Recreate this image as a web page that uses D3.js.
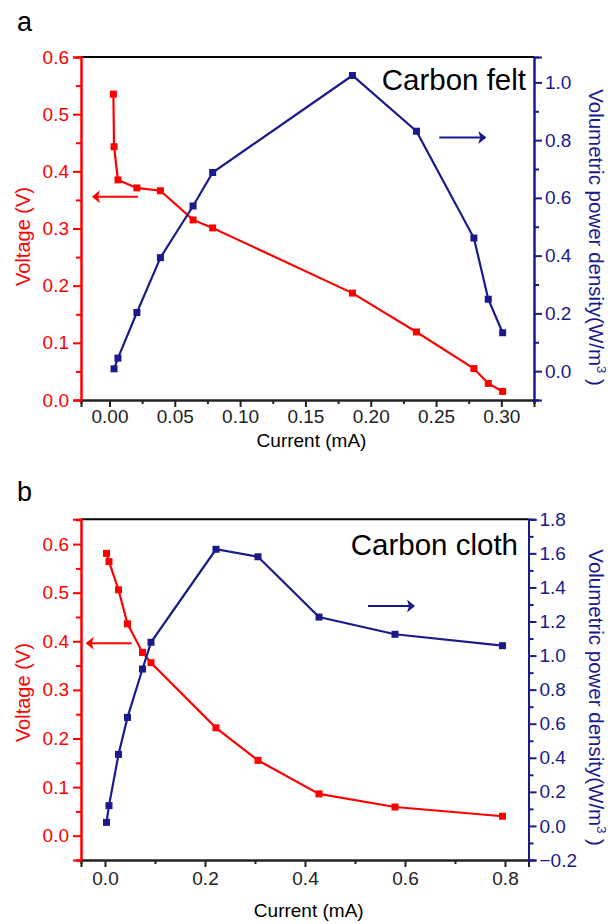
<!DOCTYPE html>
<html>
<head>
<meta charset="utf-8">
<script src="https://cdn.jsdelivr.net/npm/d3@7"></script>
<style>
body { margin: 0; background: #fff; }
svg { display: block; font-family: "Liberation Sans", Arial, sans-serif; }
</style>
</head>
<body>
<script>
// panel a - carbon felt
var currentA = [0.003, 0.0035, 0.0065, 0.021, 0.039, 0.064, 0.079, 0.186, 0.235, 0.279, 0.290, 0.301];
var voltageA = [0.535, 0.443, 0.385, 0.371, 0.366, 0.315, 0.301, 0.187, 0.119, 0.055, 0.029, 0.015];
var powerA   = [null, 0.008, 0.045, 0.203, 0.393, 0.572, 0.688, 1.024, 0.831, 0.461, 0.249, 0.133];
var xTicksA = [0, 0.05, 0.10, 0.15, 0.20, 0.25, 0.30];
var vTicksA = [0, 0.1, 0.2, 0.3, 0.4, 0.5, 0.6];
var pTicksA = [0, 0.2, 0.4, 0.6, 0.8, 1.0];

// panel b - carbon cloth
var currentB = [0.003, 0.008, 0.027, 0.045, 0.075, 0.092, 0.222, 0.306, 0.428, 0.580, 0.795];
var voltageB = [0.581, 0.564, 0.506, 0.436, 0.377, 0.356, 0.222, 0.155, 0.086, 0.059, 0.040];
var powerB   = [0.021, 0.119, 0.420, 0.637, 0.921, 1.078, 1.624, 1.580, 1.226, 1.125, 1.058];
var xTicksB = [0, 0.2, 0.4, 0.6, 0.8];
var vTicksB = [0, 0.1, 0.2, 0.3, 0.4, 0.5, 0.6];
var pTicksB = [-0.2, 0, 0.2, 0.4, 0.6, 0.8, 1.0, 1.2, 1.4, 1.6, 1.8];

var red = "#ff0000", navy = "#1a1a8c";

var svg = d3.select("body").append("svg")
    .attr("width", 608)
    .attr("height", 924);

// arrowheads
var defs = svg.append("defs");
[["headRed", red], ["headNavy", navy]].forEach(function(h) {
  defs.append("marker")
      .attr("id", h[0])
      .attr("markerUnits", "userSpaceOnUse")
      .attr("viewBox", "0 -7 8 14")
      .attr("refX", 7).attr("refY", 0)
      .attr("markerWidth", 8).attr("markerHeight", 14)
      .attr("orient", "auto")
      .append("path")
      .attr("d", "M0,-6.5L8,0L0,6.5L2,0Z")
      .attr("fill", h[1]);
});

function panel(p) {
  var g = svg.append("g");

  var x = d3.scaleLinear().domain(p.xDomain).range([p.left, p.right]);
  var yV = d3.scaleLinear().domain(p.vDomain).range([p.bottom, p.top]);
  var yP = d3.scaleLinear().domain(p.pDomain).range([p.bottom, p.top]);

  // top frame line
  g.append("line")
   .attr("x1", p.left).attr("x2", p.right)
   .attr("y1", p.top).attr("y2", p.top)
   .attr("stroke", "#000").attr("stroke-width", 2);

  // minor ticks first
  g.append("g").attr("transform", "translate(0," + p.bottom + ")")
   .call(d3.axisBottom(x).tickValues(p.xMinor).tickSize(4).tickFormat(""))
   .call(style, "#222");
  g.append("g").attr("transform", "translate(" + p.left + ",0)")
   .call(d3.axisLeft(yV).tickValues(p.vMinor).tickSize(5).tickFormat(""))
   .call(style, red);
  g.append("g").attr("transform", "translate(" + p.right + ",0)")
   .call(d3.axisRight(yP).tickValues(p.pMinor).tickSize(5).tickFormat(""))
   .call(style, navy);

  // major axes
  g.append("g").attr("transform", "translate(0," + p.bottom + ")")
   .call(d3.axisBottom(x).tickValues(p.xTicks).tickSize(7).tickPadding(p.xPad).tickFormat(d3.format(p.xFmt)))
   .call(style, "#222");
  g.append("g").attr("transform", "translate(" + p.left + ",0)")
   .call(d3.axisLeft(yV).tickValues(p.vTicks).tickSize(8).tickPadding(4).tickFormat(d3.format(".1f")))
   .call(style, red);
  g.append("g").attr("transform", "translate(" + p.right + ",0)")
   .call(d3.axisRight(yP).tickValues(p.pTicks).tickSize(8).tickPadding(3).tickFormat(d3.format(".1f")))
   .call(style, navy);

  // lines
  var vPts = p.current.map(function(c, i) { return [c, p.voltage[i]]; });
  var pPts = p.current.map(function(c, i) { return [c, p.power[i]]; })
                      .filter(function(d) { return d[1] != null; });

  g.append("path")
   .datum(vPts)
   .attr("fill", "none").attr("stroke", red).attr("stroke-width", 2.2)
   .attr("d", d3.line().x(function(d) { return x(d[0]); }).y(function(d) { return yV(d[1]); }));
  g.append("path")
   .datum(pPts)
   .attr("fill", "none").attr("stroke", navy).attr("stroke-width", 2.2)
   .attr("d", d3.line().x(function(d) { return x(d[0]); }).y(function(d) { return yP(d[1]); }));

  g.selectAll(".sv").data(vPts).enter().append("rect")
   .attr("x", function(d) { return x(d[0]) - 3.5; })
   .attr("y", function(d) { return yV(d[1]) - 3.5; })
   .attr("width", 7).attr("height", 7)
   .attr("fill", red);
  g.selectAll(".sp").data(pPts).enter().append("rect")
   .attr("x", function(d) { return x(d[0]) - 3.5; })
   .attr("y", function(d) { return yP(d[1]) - 3.5; })
   .attr("width", 7).attr("height", 7)
   .attr("fill", navy);

  // arrows pointing to axes
  g.append("line")
   .attr("x1", x(p.redArrow[1])).attr("x2", x(p.redArrow[0]))
   .attr("y1", yV(p.redArrow[2])).attr("y2", yV(p.redArrow[2]))
   .attr("stroke", red).attr("stroke-width", 2)
   .attr("marker-end", "url(#headRed)");
  g.append("line")
   .attr("x1", x(p.navyArrow[0])).attr("x2", x(p.navyArrow[1]))
   .attr("y1", yP(p.navyArrow[2])).attr("y2", yP(p.navyArrow[2]))
   .attr("stroke", navy).attr("stroke-width", 2)
   .attr("marker-end", "url(#headNavy)");

  // texts
  g.append("text")
   .attr("x", 17).attr("y", p.top - p.letterUp)
   .attr("font-size", 27).text(p.letter);

  g.append("text")
   .attr("x", p.nameX).attr("y", p.nameY)
   .attr("text-anchor", "end").attr("font-size", 29.5)
   .text(p.name);

  g.append("text")
   .attr("x", (p.left + p.right) / 2 + 4).attr("y", p.xTitleY)
   .attr("text-anchor", "middle").attr("font-size", 19)
   .text("Current (mA)");

  var mid = (p.top + p.bottom) / 2;
  g.append("text")
   .attr("transform", "translate(30," + (mid + p.vTitleShift) + ") rotate(-90)")
   .attr("text-anchor", "middle").attr("font-size", 20)
   .attr("fill", red)
   .text("Voltage (V)");

  var t = g.append("text")
   .attr("transform", "translate(589," + (mid + p.pTitleShift) + ") rotate(90)")
   .attr("text-anchor", "middle").attr("font-size", 20.5)
   .attr("fill", navy);
  t.append("tspan").text("Volumetric power density(W/m");
  t.append("tspan").attr("font-size", 13).attr("dy", -8).text("3");
  t.append("tspan").attr("dy", 8).text(" )");
}

function style(sel, color) {
  sel.select(".domain").attr("stroke", color).attr("stroke-width", 2);
  sel.selectAll(".tick line").attr("stroke", color).attr("stroke-width", 2);
  sel.selectAll(".tick text").attr("fill", color)
     .attr("font-size", 19).attr("font-family", "Liberation Sans, Arial, sans-serif");
}

panel({
  letter: "a", letterUp: 26, name: "Carbon felt", nameX: 526, nameY: 90,
  left: 81, right: 534, top: 57, bottom: 400,
  xDomain: [-0.0218, 0.325], vDomain: [0, 0.6], pDomain: [-0.1, 1.088],
  xTicks: xTicksA, xMinor: [0.025, 0.075, 0.125, 0.175, 0.225, 0.275, 0.325], xFmt: ".2f", xPad: 3,
  vTicks: vTicksA, vMinor: [0.05, 0.15, 0.25, 0.35, 0.45, 0.55],
  pTicks: pTicksA, pMinor: [-0.1, 0.1, 0.3, 0.5, 0.7, 0.9],
  current: currentA, voltage: voltageA, power: powerA,
  redArrow: [-0.0126, 0.0218, 0.3556], navyArrow: [0.2525, 0.2877, 0.809],
  xTitleY: 447, vTitleShift: 8, pTitleShift: 9
});

panel({
  letter: "b", letterUp: 18, name: "Carbon cloth", nameX: 518, nameY: 555,
  left: 81, right: 528.5, top: 519.3, bottom: 860,
  xDomain: [-0.048, 0.847], vDomain: [-0.05, 0.651], pDomain: [-0.2, 1.8],
  xTicks: xTicksB, xMinor: [0.1, 0.3, 0.5, 0.7], xFmt: ".1f", xPad: 5,
  vTicks: vTicksB, vMinor: [-0.05, 0.05, 0.15, 0.25, 0.35, 0.45, 0.55, 0.65],
  pTicks: pTicksB, pMinor: [-0.1, 0.1, 0.3, 0.5, 0.7, 0.9, 1.1, 1.3, 1.5, 1.7],
  current: currentB, voltage: voltageB, power: powerB,
  redArrow: [-0.0366, 0.0534, 0.396], navyArrow: [0.526, 0.618, 1.291],
  xTitleY: 917, vTitleShift: 3, pTitleShift: 8
});
</script>
</body>
</html>
